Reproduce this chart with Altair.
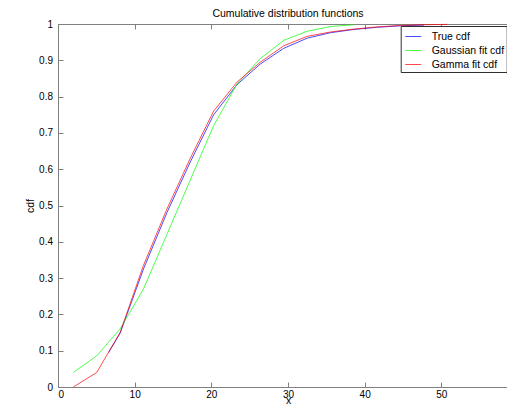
import altair as alt
import pandas as pd

# ---- data ----
x_grid = [2.0, 5.05, 8.1, 11.15, 14.2, 17.25, 20.3, 23.35, 26.4, 29.45, 32.5,
          35.55, 38.6, 41.65, 44.7, 47.75, 50.8]
gamma_cdf = [0.0, 0.04, 0.15, 0.335, 0.49, 0.63, 0.76, 0.84, 0.895, 0.94, 0.966,
             0.978, 0.986, 0.992, 0.996, 0.998, 0.999]
gauss_x = x_grid[:13]
gauss_cdf = [0.04, 0.086, 0.16, 0.27, 0.42, 0.57, 0.72, 0.835, 0.905, 0.955, 0.98,
             0.993, 0.998]
true_x = [6.6] + x_grid[2:16]
true_cdf = [0.095, 0.148, 0.325, 0.48, 0.62, 0.75, 0.833, 0.89, 0.933, 0.961, 0.976,
            0.985, 0.991, 0.995, 0.997]

series_names = ["True cdf", "Gaussian fit cdf", "Gamma fit cdf"]
series_colors = ["#0000ff", "#00ff00", "#ff0000"]
x_ticks = [0, 10, 20, 30, 40, 50]
y_ticks = [0, 0.1, 0.2, 0.3, 0.4, 0.5, 0.6, 0.7, 0.8, 0.9, 1]

rows = []
for name, xs, ys in [(series_names[0], true_x, true_cdf),
                     (series_names[1], gauss_x, gauss_cdf),
                     (series_names[2], x_grid, gamma_cdf)]:
    for xv, yv in zip(xs, ys):
        rows.append({"x": xv, "cdf": yv, "series": name})
df = pd.DataFrame(rows)

# the axes box runs to x=60, but the picture is cut at the page edge
W, H = 449, 363
X_MAX = 60 * W / 460
FONT = "Liberation Sans"
GRAY = "#808080"
FS = 10.5

xscale = alt.Scale(domain=[0, X_MAX], nice=False, zero=False)
yscale = alt.Scale(domain=[0, 1], nice=False)

base = alt.Chart(df)

main = base.mark_line(strokeWidth=1, opacity=0.7).encode(
    x=alt.X("x:Q", scale=xscale,
            axis=alt.Axis(orient="bottom", values=x_ticks, ticks=False, domain=True,
                          domainColor=GRAY, grid=False, title="x", labelPadding=2,
                          format="d", labelFontSize=10, titleFontSize=FS,
                          titleFontWeight="normal", titleY=16, titleX=230,
                          titleBaseline="alphabetic")),
    y=alt.Y("cdf:Q", scale=yscale,
            axis=alt.Axis(orient="left", values=y_ticks, ticks=False, domain=True,
                          domainColor=GRAY, grid=False, title="cdf", labelPadding=5.5,
                          titlePadding=3, format="~g", labelFontSize=10,
                          titleFontSize=FS, titleFontWeight="normal")),
    color=alt.Color("series:N",
                    scale=alt.Scale(domain=series_names, range=series_colors),
                    sort=series_names,
                    legend=alt.Legend(orient="none", legendX=342.7, legendY=2.0, title=None,
                                      fillColor="white", strokeColor="#303030",
                                      padding=2, symbolType="stroke", symbolSize=256,
                                      symbolOffset=2, symbolStrokeWidth=1,
                                      labelFontSize=FS, labelFont=FONT, labelOffset=10,
                                      rowPadding=-3.4, labelColor="black")),
)

# inward ticks on bottom and left borders
ticks_bl = base.mark_line(opacity=0).encode(
    x=alt.X("x:Q", scale=xscale,
            axis=alt.Axis(orient="top", offset=-H, values=x_ticks, labels=False,
                          domain=False, grid=False, tickSize=5, tickColor=GRAY, title=None)),
    y=alt.Y("cdf:Q", scale=yscale,
            axis=alt.Axis(orient="right", offset=-W, values=y_ticks, labels=False,
                          domain=False, grid=False, tickSize=5, tickColor=GRAY, title=None)),
)

# top border with inward ticks
ticks_t = base.mark_line(opacity=0).encode(
    x=alt.X("x:Q", scale=xscale,
            axis=alt.Axis(orient="bottom", offset=-H, values=x_ticks, labels=False,
                          domain=True, domainColor=GRAY, grid=False, tickSize=5,
                          tickColor=GRAY, title=None)),
    y=alt.Y("cdf:Q", scale=yscale, axis=None),
)

chart = alt.layer(main, ticks_bl, ticks_t).resolve_axis(
    x="independent", y="independent"
).properties(
    width=W, height=H,
    title=alt.TitleParams("Cumulative distribution functions", fontSize=FS,
                          fontWeight="normal", font=FONT, anchor="middle", offset=5,
                          frame="group", color="black", dx=5.5, dy=5.5),
    autosize=alt.AutoSizeParams(type="none"),
    padding={"left": 50, "top": 16, "right": 0, "bottom": 17},
).configure_view(
    stroke=None
).configure_axis(
    labelFont=FONT, titleFont=FONT, labelColor="black", titleColor="black"
).configure(background="white")

chart.save("out.html", embed_options={"renderer": "svg", "actions": False})
